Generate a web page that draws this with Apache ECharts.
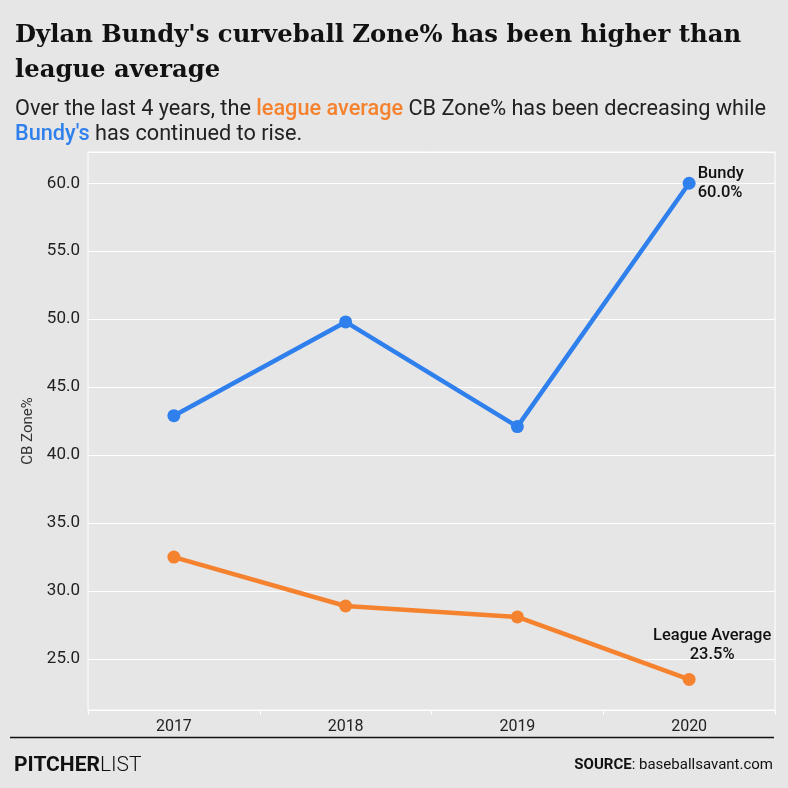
<!DOCTYPE html>
<html>
	<head>
		<meta charset="utf-8" />
		<title></title>
		<script src="https://cdn.jsdelivr.net/npm/echarts@6/dist/echarts.min.js"></script>
		<style>
			html, body{
				margin: 0;
				padding: 0;
				background: #e6e6e6;
			}
			#dvchart{
				width: 788px;
				height: 788px;
			}
		</style>
	</head>
	<body>
		<div id="dvchart"></div>
		<script>
			// 数据
			var years = ['2017', '2018', '2019', '2020'];
			var bundyZone = [42.9, 49.8, 42.1, 60.0];
			var leagueZone = [32.5, 28.9, 28.1, 23.5];
			var yMin = 21.25;
			var yMax = 62.3;

			var blue = '#2f80ed';
			var orange = '#f5822f';

			function lastLabel(name){
				return function(p){ return name + '\n' + p.value.toFixed(1) + '%'; };
			}

			var chart1 = echarts.init(document.getElementById("dvchart"));
			var option1 = {
				backgroundColor: '#e6e6e6',
				animation: false,
				textStyle: {
					fontFamily: 'Roboto'
				},
				title: [
					{
						text: "Dylan Bundy's curveball Zone% has been higher than\nleague average",
						left: 10,
						top: 13,
						textStyle: {
							fontFamily: 'DejaVu Serif',
							fontWeight: 'bold',
							fontSize: 24.3,
							lineHeight: 35,
							color: '#111'
						}
					},
					{
						text: 'Over the last 4 years, the {o|league average} CB Zone% has been decreasing while\n{b|Bundy\'s} has continued to rise.',
						left: 10,
						top: 92,
						textStyle: {
							fontFamily: 'Roboto',
							fontWeight: 'normal',
							fontSize: 21.7,
							lineHeight: 25,
							color: '#222',
							rich: {
								o: {color: orange, fontWeight: 500, fontSize: 21.7, lineHeight: 25, fontFamily: 'Roboto'},
								b: {color: blue, fontWeight: 500, fontSize: 21.7, lineHeight: 25, fontFamily: 'Roboto'}
							}
						}
					},
					{
						text: '{b|PITCHER}{l|LIST}',
						left: 9,
						top: 750,
						textStyle: {
							rich: {
								b: {fontFamily: 'Roboto', fontWeight: 'bold', fontSize: 21, color: '#111'},
								l: {fontFamily: 'Roboto', fontWeight: 300, fontSize: 21, color: '#111'}
							}
						}
					},
					{
						text: '{b|SOURCE}: baseballsavant.com',
						right: 10,
						top: 753,
						textStyle: {
							fontFamily: 'Roboto',
							fontWeight: 'normal',
							fontSize: 15,
							color: '#111',
							rich: {
								b: {fontFamily: 'Roboto', fontWeight: 'bold', fontSize: 15, color: '#111'}
							}
						}
					}
				],
				graphic: [
					{
						type: 'line',
						shape: {x1: 10, y1: 737.5, x2: 774, y2: 737.5},
						style: {stroke: '#111', lineWidth: 1.5}
					}
				],
				grid: {
					left: 88,
					right: 13,
					top: 152,
					bottom: 78,
					show: true,
					borderColor: '#fff',
					borderWidth: 1,
					backgroundColor: 'transparent'
				},
				xAxis: {
					type: 'category',
					data: years,
					boundaryGap: true,
					axisLine: {show: true, lineStyle: {color: '#fff', width: 1}},
					axisTick: {show: true, length: 5, lineStyle: {color: '#fff'}},
					axisLabel: {color: '#222', fontSize: 16, margin: 9},
					splitLine: {show: false}
				},
				yAxis: {
					type: 'value',
					min: yMin,
					max: yMax,
					splitNumber: 8,
					name: 'CB Zone%',
					nameLocation: 'middle',
					nameGap: 50,
					nameTextStyle: {color: '#333', fontSize: 15},
					axisLine: {show: false},
					axisTick: {show: false},
					axisLabel: {
						color: '#222',
						fontSize: 17,
						margin: 8,
						formatter: function(v){
							return (Math.abs(v % 5) < 1e-6) ? v.toFixed(1) : '';
						}
					},
					splitLine: {show: true, lineStyle: {color: '#fff', width: 1}}
				},
				series: [
					{
						name: 'Bundy',
						type: 'line',
						data: bundyZone.map(function(v, i){
							if (i === bundyZone.length - 1) {
								return {
									value: v,
									label: {
										show: true,
										position: 'right',
										distance: 2,
										align: 'left',
										verticalAlign: 'middle',
										formatter: lastLabel('Bundy'),
										fontSize: 16.5,
										fontWeight: 500,
										lineHeight: 19,
										color: '#111'
									}
								};
							}
							return v;
						}),
						symbol: 'circle',
						symbolSize: 13,
						lineStyle: {color: blue, width: 4.5},
						itemStyle: {color: blue}
					},
					{
						name: 'League Average',
						type: 'line',
						data: leagueZone.map(function(v, i){
							if (i === leagueZone.length - 1) {
								return {
									value: v,
									label: {
										show: true,
										position: 'top',
										distance: 9,
										offset: [23, 0],
										align: 'center',
										formatter: lastLabel('League Average'),
										fontSize: 16.5,
										fontWeight: 500,
										lineHeight: 19,
										color: '#111'
									}
								};
							}
							return v;
						}),
						symbol: 'circle',
						symbolSize: 13,
						lineStyle: {color: orange, width: 4.5},
						itemStyle: {color: orange}
					}
				]
			};
			chart1.setOption(option1);
		</script>
	</body>
</html>
